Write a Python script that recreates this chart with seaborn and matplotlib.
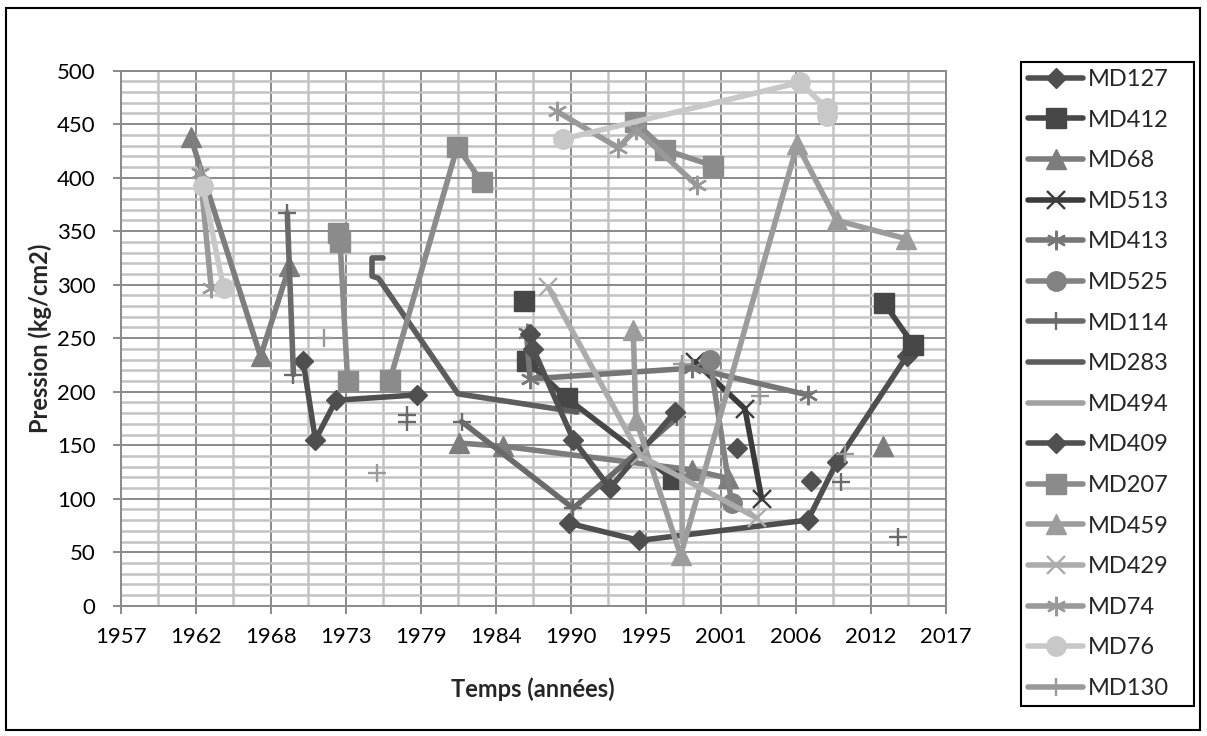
import numpy as np
import pandas as pd
import matplotlib
matplotlib.use("Agg")
import matplotlib.pyplot as plt
from matplotlib.lines import Line2D
from matplotlib.patches import Rectangle
import seaborn as sns

nan = np.nan

# ---- data: decimal year / pressure (kg/cm2); NaN marks a break in the line ----
md127_t = [1970.7, 1971.6, 1973.1, 1979.0, nan, 1990.12, 1995.22, 2007.52, 2009.62, 2014.72]
md127_p = [229, 155, 192, 197, nan, 77, 61, 80, 134, 233]

md412_t = [1986.81, nan, 1987.0, 1989.93, 1997.7, nan, 2013.07, 2015.2]
md412_p = [285, nan, 229, 194, 118, nan, 283, 244]

md68_t = [1962.5, 1967.6, 1969.7, nan, 1982.1, 1985.3, 1999.04, 2001.71, nan, 2012.97]
md68_p = [438, 233, 317, nan, 152, 149, 127, 119, nan, 149]

md513_t = [1999.28, 2002.93, 2004.15]
md513_p = [228, 184, 100]

md413_t = [1987.0, 1987.25, 1999.1, 2007.52]
md413_p = [255, 212, 222, 197]

md525_t = [2000.38, 2001.96]
md525_p = [230, 96]

md114_t = [1969.55, 1970.0, nan, 1978.26, nan, 1978.3, nan, 1982.27, 1990.41, 1998.0, nan, 2009.9, nan, 2014.11]
md114_p = [367, 216, nan, 178, nan, 172, nan, 172, 91, 176, nan, 116, nan, 64]

md283_t = [1976.53, 1975.73, 1975.73, 1976.2, 1982.0, 1990.68]
md283_p = [325, 325, 308, 306, 198, 181]

md494_t = [1998.3, 1998.35]
md494_p = [226, 60]

md409_t = [1987.25, 1987.49, 1990.41, 1993.08, 1997.82, nan, 2002.32, nan, 2007.72]
md409_p = [254, 240, 155, 110, 181, nan, 147, nan, 117]

md207_t = [1973.25, 1973.4, 1973.95, nan, 1977.04, 1981.95, 1983.73, nan, 1994.9, 1997.1, 2000.62]
md207_p = [348, 340, 210, nan, 211, 429, 396, nan, 452, 426, 411]

md459_t = [1994.78, 1994.98, 1998.24, 2006.74, 2009.62, 2014.67]
md459_p = [258, 174, 47, 431, 360, 343]

md429_t = [1988.58, 1995.3, 2003.8]
md429_p = [298, 140, 82]

md74_t = [1963.2, 1964.0, nan, 1989.2, 1993.69, 1994.98, 1999.41]
md74_p = [404, 297, nan, 462, 428, 445, 393]

md76_t = [1963.4, 1964.9, nan, 1989.63, 2006.94, 2008.89, 2008.95]
md76_p = [392, 297, nan, 436, 489, 465, 458]

md130_t = [1972.2, nan, 1976.07, nan, 1998.34, nan, 2004.02, nan, 2010.22]
md130_p = [250, nan, 124, nan, 226, nan, 196, nan, 142]

x_tick_labels = ["1957", "1962", "1968", "1973", "1979", "1984",
                 "1990", "1995", "2001", "2006", "2012", "2017"]

# ---- series styles: (name, times, pressures, colour, marker, marker size) ----
STAR = (6, 2, 0)
series = [
    ("MD127", md127_t, md127_p, "#4f4f4f", "D", 10.5),
    ("MD412", md412_t, md412_p, "#474747", "s", 14),
    ("MD68", md68_t, md68_p, "#7d7d7d", "^", 15),
    ("MD513", md513_t, md513_p, "#3b3b3b", "x", 13),
    ("MD413", md413_t, md413_p, "#767676", STAR, 14),
    ("MD525", md525_t, md525_p, "#828282", "o", 14),
    ("MD114", md114_t, md114_p, "#6a6a6a", "+", 13),
    ("MD283", md283_t, md283_p, "#5d5d5d", None, 0),
    ("MD494", md494_t, md494_p, "#a2a2a2", None, 0),
    ("MD409", md409_t, md409_p, "#505050", "D", 10.5),
    ("MD207", md207_t, md207_p, "#8b8b8b", "s", 14),
    ("MD459", md459_t, md459_p, "#9c9c9c", "^", 15),
    ("MD429", md429_t, md429_p, "#acacac", "x", 13),
    ("MD74", md74_t, md74_p, "#999999", STAR, 14),
    ("MD76", md76_t, md76_p, "#c8c8c8", "o", 14),
    ("MD130", md130_t, md130_p, "#9a9a9a", "+", 13),
]

LW = 4.0
FONT = ["Lato", "DejaVu Sans"]

sns.set_theme(style="white")
plt.rcParams["font.family"] = FONT

fig = plt.figure(figsize=(12.07, 7.36), dpi=100)
ax = fig.add_axes([0.1, 0.177, 0.6835, 0.727])

x0, step = 1957.4, 5.47
xt = [x0 + i * step for i in range(len(x_tick_labels))]


def segments(t, p):
    df = pd.DataFrame({"t": t, "p": p})
    gid = df["p"].isna().cumsum()
    keep = df["p"].notna()
    for _, g in df[keep].groupby(gid[keep]):
        yield g


def marker_kw(col, mk, ms):
    thin = mk in ("x", "+") or isinstance(mk, tuple)
    return dict(marker=mk, markersize=ms, markeredgecolor=col, markerfacecolor=col,
                markeredgewidth=1.7 if thin else 1.0)


for name, t, p, col, mk, ms in series:
    for seg in segments(t, p):
        kw = dict(color=col, lw=LW, sort=False, estimator=None, legend=False, ax=ax,
                  solid_capstyle="round", solid_joinstyle="round")
        if mk is not None:
            kw.update(marker_kw(col, mk, ms))
        sns.lineplot(data=seg, x="t", y="p", **kw)

# ---- axes, grid, ticks ----
ax.set_xlim(xt[0], xt[-1])
ax.set_ylim(0, 500)
ax.set_xticks(xt)
ax.set_xticklabels(x_tick_labels)
ax.set_xticks([a + step / 2 for a in xt[:-1]], minor=True)
ax.set_yticks(range(0, 501, 50))
ax.set_yticks(range(0, 501, 10), minor=True)
ax.grid(which="minor", color="#c3c3c3", lw=1.8)
ax.grid(which="major", color="#8a8a8a", lw=1.4)
ax.set_axisbelow(True)
for s in ax.spines.values():
    s.set_color("#8a8a8a")
    s.set_linewidth(1.4)
ax.tick_params(which="major", direction="out", length=6, width=1.4, color="#8a8a8a",
               labelsize=16, labelcolor="black", bottom=True, left=True)
ax.tick_params(axis="y", pad=12)
ax.tick_params(axis="x", pad=9)
ax.tick_params(which="minor", length=0)
ax.set_xlabel("Temps (années)", fontsize=17, fontweight="bold", labelpad=22)
ax.set_ylabel("Pression (kg/cm2)", fontsize=17, fontweight="bold", labelpad=4)

# ---- legend ----
handles = []
for name, t, p, col, mk, ms in series:
    kw = dict(color=col, lw=LW, solid_capstyle="round")
    if mk is not None:
        kw.update(marker_kw(col, mk, ms))
    handles.append(Line2D([], [], **kw))
leg = fig.legend(handles, [s[0] for s in series], loc="upper left",
                 bbox_to_anchor=(0.8457, 0.0421, 0.1435, 0.8737), mode="expand",
                 fontsize=17, handlelength=2.35, handletextpad=0.2, labelspacing=0.83,
                 borderpad=0.3, borderaxespad=0, fancybox=False, framealpha=1)
leg.get_frame().set_edgecolor("black")
leg.get_frame().set_linewidth(1.5)

# outer chart frame
fig.patches.append(Rectangle((6 / 1207, 6 / 736), 1194 / 1207, 722 / 736,
                             transform=fig.transFigure, fill=False,
                             edgecolor="black", lw=1.5))

fig.savefig("out.png", dpi=100)
